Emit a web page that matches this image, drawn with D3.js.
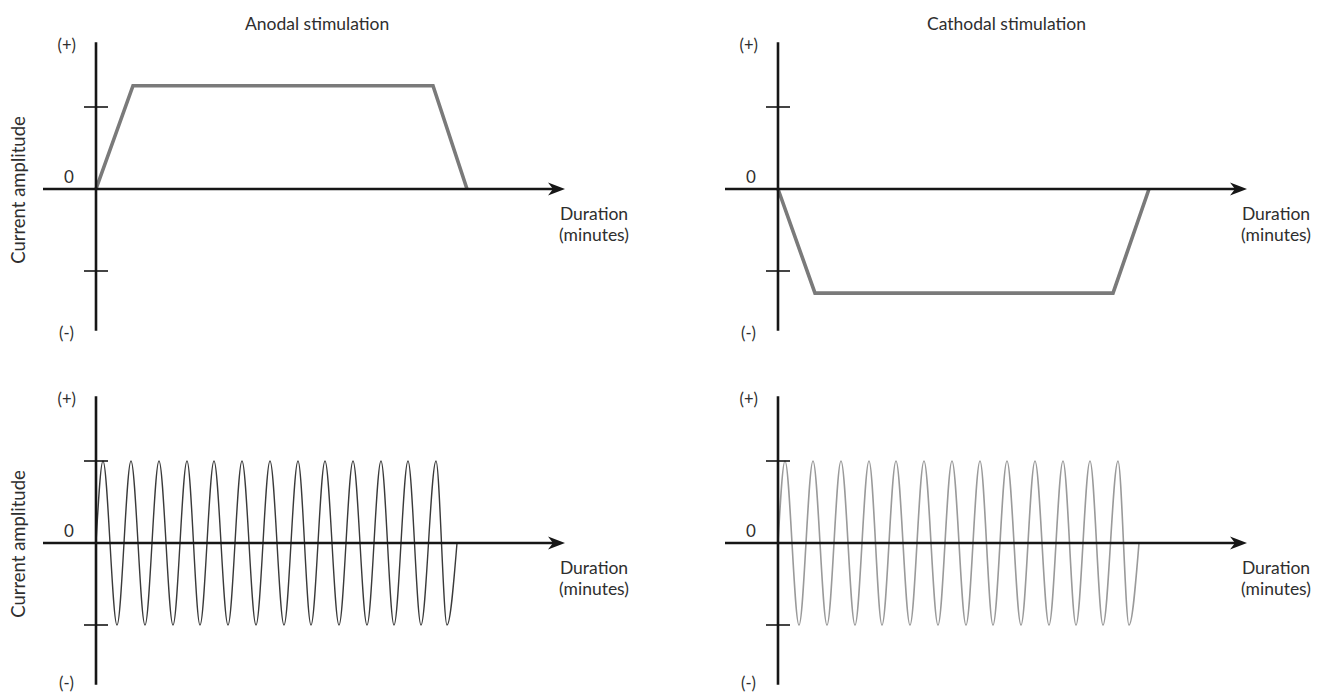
<!DOCTYPE html>
<html>
<head>
<meta charset="utf-8">
<script src="https://cdn.jsdelivr.net/npm/d3@7"></script>
<style>
  html, body { margin: 0; padding: 0; background: #fff; }
  svg text { font-family: Lato, "Open Sans", sans-serif; fill: #2e2e2e; }
</style>
</head>
<body>
<svg id="chart" width="1318" height="694"></svg>
<script>
// ---- data ----
const panelTitles = ["Anodal stimulation", "Cathodal stimulation"];
const yAxisTitle = "Current amplitude";
const xAxisTitle = ["Duration", "(minutes)"];
const yTickLabels = ["(+)", "0", "(-)"];
const yTickValues = [1, -1];

// trapezoid (tDCS) time points (arbitrary time units) and amplitudes
const anodalTime = [0, 3.7, 33.7, 37.1];
const anodalAmp  = [0, 1.26, 1.26, 0];
const cathodalTime = [0, 3.7, 33.5, 37.1];
const cathodalAmp  = [0, -1.27, -1.27, 0];

// oscillating (tACS) wave: zero crossings at start/end, peaks and troughs
const acsStartEnd = [0, 36.1];
const acsPeaks   = [0.7, 3.5, 6.3, 9.1, 11.8, 14.6, 17.4, 20.2, 22.9, 25.7, 28.5, 31.2, 34.0];
const acsTroughs = [2.1, 4.9, 7.7, 10.4, 13.2, 16.0, 18.8, 21.5, 24.3, 27.1, 29.8, 32.5, 35.1];
const acsAmp = 1;

// ---- layout ----
const svg = d3.select("#chart");
const panelOrigins = [
  {x: 96, y: 189, col: 0, row: 0},
  {x: 778, y: 189, col: 1, row: 0},
  {x: 96, y: 543, col: 0, row: 1},
  {x: 778, y: 543, col: 1, row: 1}
];
const pxPerTime = 10, pxPerAmp = 82;
const xDomain = [-5.3, 46.9];
const yDomain = [-1.73, 1.79];

const axisColor = "#161616";
const textSize = 17.5;

function makeScales(o) {
  const x = d3.scaleLinear().domain(xDomain)
    .range([o.x + xDomain[0] * pxPerTime, o.x + xDomain[1] * pxPerTime]);
  const y = d3.scaleLinear().domain(yDomain)
    .range([o.y - yDomain[0] * pxPerAmp, o.y - yDomain[1] * pxPerAmp]);
  return {x, y};
}

// titles
panelTitles.forEach((t, i) => {
  const o = panelOrigins[i];
  svg.append("text").attr("x", o.x + 149).attr("y", 30)
    .attr("font-size", textSize).text(t);
});

panelOrigins.forEach((o, i) => {
  const {x, y} = makeScales(o);
  const g = svg.append("g");

  // series first (drawn under the axes)
  if (o.row === 0) {
    const tt = o.col === 0 ? anodalTime : cathodalTime;
    const aa = o.col === 0 ? anodalAmp : cathodalAmp;
    const pts = tt.map((t, k) => [t, aa[k]]);
    g.append("path")
      .attr("d", d3.line().x(d => x(d[0])).y(d => y(d[1]))(pts))
      .attr("fill", "none").attr("stroke", "#7a7a7a")
      .attr("stroke-width", 3.6).attr("stroke-linejoin", "miter");
  } else {
    const pts = [[acsStartEnd[0], 0]];
    acsPeaks.forEach(p => pts.push([p, acsAmp]));
    acsTroughs.forEach(p => pts.push([p, -acsAmp]));
    pts.push([acsStartEnd[1], 0]);
    pts.sort((a, b) => a[0] - b[0]);
    g.append("path")
      .attr("d", d3.line().curve(d3.curveMonotoneX).x(d => x(d[0])).y(d => y(d[1]))(pts))
      .attr("fill", "none")
      .attr("stroke", o.col === 0 ? "#3a3a3a" : "#9a9a9a")
      .attr("stroke-width", o.col === 0 ? 1.4 : 1.6);
  }

  // x axis line with arrow
  const x0 = x.range()[0], x1 = x.range()[1], yz = y(0);
  g.append("line").attr("x1", x0).attr("x2", x1 - 8).attr("y1", yz).attr("y2", yz)
    .attr("stroke", axisColor).attr("stroke-width", 2.6);
  g.append("path")
    .attr("d", `M${x1},${yz} L${x1 - 17},${yz - 6.5} L${x1 - 12},${yz} L${x1 - 17},${yz + 6.5} Z`)
    .attr("fill", axisColor);

  // y axis line
  const yTop = y.range()[1], yBot = y.range()[0];
  g.append("line").attr("x1", x(0)).attr("x2", x(0))
    .attr("y1", yTop).attr("y2", yBot)
    .attr("stroke", axisColor).attr("stroke-width", 2.6);

  // ticks
  yTickValues.forEach(v => {
    g.append("line").attr("x1", x(0) - 12).attr("x2", x(0) + 12)
      .attr("y1", y(v)).attr("y2", y(v))
      .attr("stroke", axisColor).attr("stroke-width", 1.6);
  });

  // tick labels
  g.append("text").attr("x", x(0) - 20).attr("y", yTop + 9)
    .attr("text-anchor", "end").attr("font-size", 16.5).text(yTickLabels[0]);
  g.append("text").attr("x", x(0) - 27).attr("y", y(0) - 6)
    .attr("text-anchor", "middle").attr("font-size", 17).text(yTickLabels[1]);
  g.append("text").attr("x", x(0) - 22).attr("y", Math.min(yBot + 8, 689))
    .attr("text-anchor", "end").attr("font-size", 16.5).text(yTickLabels[2]);

  // x axis title
  const cx = x1 + 29;
  const xt = g.append("text").attr("x", cx).attr("y", yz + 31)
    .attr("text-anchor", "middle").attr("font-size", textSize);
  xt.append("tspan").attr("x", cx).text(xAxisTitle[0]);
  xt.append("tspan").attr("x", cx).attr("dy", 21).text(xAxisTitle[1]);

  // y axis title (left column only)
  if (o.col === 0) {
    g.append("text")
      .attr("transform", `translate(25,${o.y + 1}) rotate(-90)`)
      .attr("text-anchor", "middle").attr("font-size", 18.5).text(yAxisTitle);
  }
});
</script>
</body>
</html>
